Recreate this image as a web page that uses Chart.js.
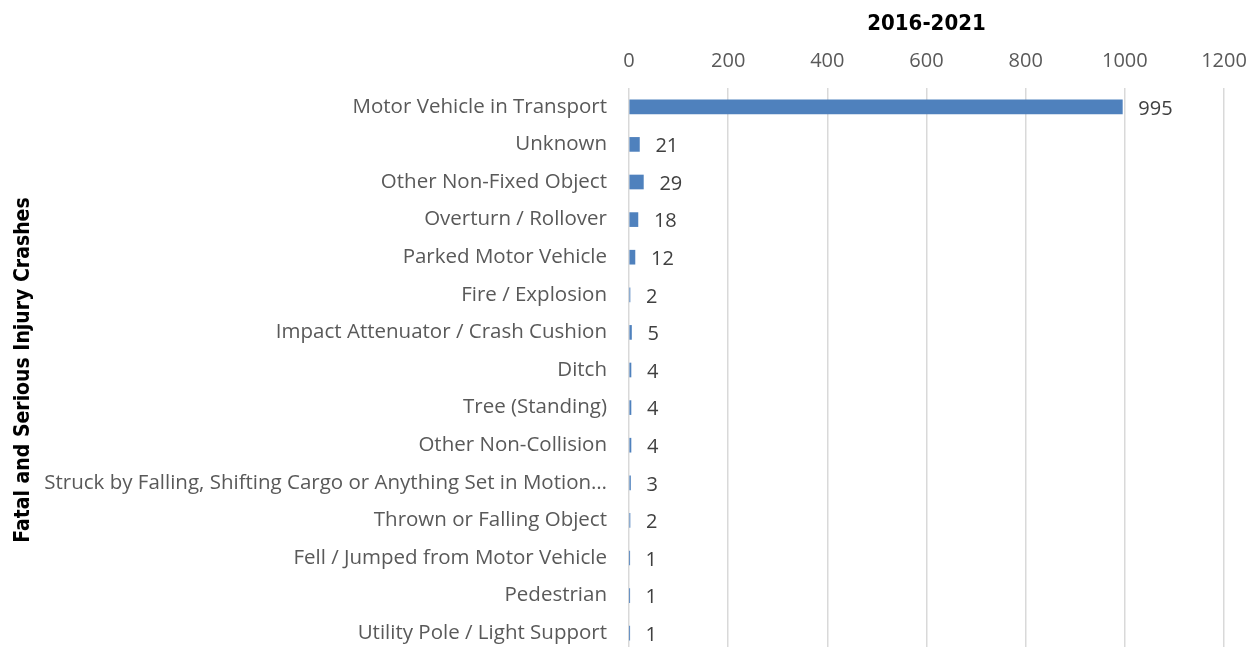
<!DOCTYPE html>
<html>
<head>
<meta charset="utf-8">
<script src="https://cdn.jsdelivr.net/npm/chart.js@4.4.1/dist/chart.umd.min.js"></script>
<style>
  html, body { margin: 0; padding: 0; background: #fff; overflow: hidden; }
  #chartCrashes { display: block; }
</style>
</head>
<body>
<canvas id="chartCrashes" width="1260" height="652"></canvas>
<script>
// categorias y valores
const categorias = [
    'Motor Vehicle in Transport',
    'Unknown',
    'Other Non-Fixed Object',
    'Overturn / Rollover',
    'Parked Motor Vehicle',
    'Fire / Explosion',
    'Impact Attenuator / Crash Cushion',
    'Ditch',
    'Tree (Standing)',
    'Other Non-Collision',
    'Struck by Falling, Shifting Cargo or Anything Set in Motion…',
    'Thrown or Falling Object',
    'Fell / Jumped from Motor Vehicle',
    'Pedestrian',
    'Utility Pole / Light Support'
];
const valores = [995, 21, 29, 18, 12, 2, 5, 4, 4, 4, 3, 2, 1, 1, 1];
const ticksX = [0, 200, 400, 600, 800, 1000, 1200];

const fuenteTexto = '"Open Sans", Lato, sans-serif';
const fuenteTitulo = '"DejaVu Sans Condensed", "DejaVu Sans", sans-serif';

// Etiquetas de valor al final de cada barra
const etiquetasValor = {
    id: 'etiquetasValor',
    afterDatasetsDraw(chart) {
        const ctx = chart.ctx;
        const meta = chart.getDatasetMeta(0);
        ctx.save();
        ctx.font = '20px ' + fuenteTexto;
        ctx.fillStyle = '#404040';
        ctx.textBaseline = 'middle';
        ctx.textAlign = 'left';
        meta.data.forEach(function (bar, i) {
            ctx.fillText(String(valores[i]), bar.x + 16, bar.y + 2);
        });
        ctx.restore();
    }
};

const ctx1 = document.getElementById('chartCrashes').getContext('2d');
const chartCrashes = new Chart(ctx1, {
    type: 'bar',
    data: {
        labels: categorias,
        datasets: [{
            data: valores,
            backgroundColor: '#4f81bd',
            borderWidth: 0,
            barThickness: 14
        }]
    },
    options: {
        indexAxis: 'y',
        responsive: false,
        animation: false,
        layout: { padding: { left: 0, right: 36, top: 0, bottom: 0 } },
        plugins: {
            legend: { display: false },
            tooltip: { enabled: false }
        },
        scales: {
            x: {
                position: 'top',
                min: 0,
                max: 1200,
                afterBuildTicks: function (scale) {
                    scale.ticks = ticksX.map(v => ({ value: v }));
                },
                afterFit: function (scale) {
                    scale.height = 88;
                    scale.paddingLeft = 0;
                    scale.paddingRight = 0;
                },
                grid: {
                    color: '#d9d9d9',
                    lineWidth: 1.5,
                    drawTicks: false
                },
                border: { display: false },
                ticks: {
                    color: '#595959',
                    font: { family: fuenteTexto, size: 20 },
                    padding: 15,
                    callback: function (v) { return String(v); }
                },
                title: {
                    display: true,
                    text: '2016-2021',
                    color: '#000',
                    font: { family: fuenteTitulo, size: 22, weight: 'bold' },
                    padding: { top: 11, bottom: 2 }
                }
            },
            y: {
                afterFit: function (scale) {
                    scale.width = 629;
                    scale.paddingTop = 0;
                    scale.paddingBottom = 0;
                },
                grid: { display: false, drawTicks: false },
                border: { display: false },
                ticks: {
                    color: '#595959',
                    font: { family: fuenteTexto, size: 20.5 },
                    padding: 22
                },
                title: {
                    display: true,
                    text: 'Fatal and Serious Injury Crashes',
                    color: '#000',
                    font: { family: fuenteTitulo, size: 21, weight: 'bold' },
                    padding: { top: 11, bottom: 0 }
                }
            }
        }
    },
    plugins: [etiquetasValor]
});
</script>
</body>
</html>
